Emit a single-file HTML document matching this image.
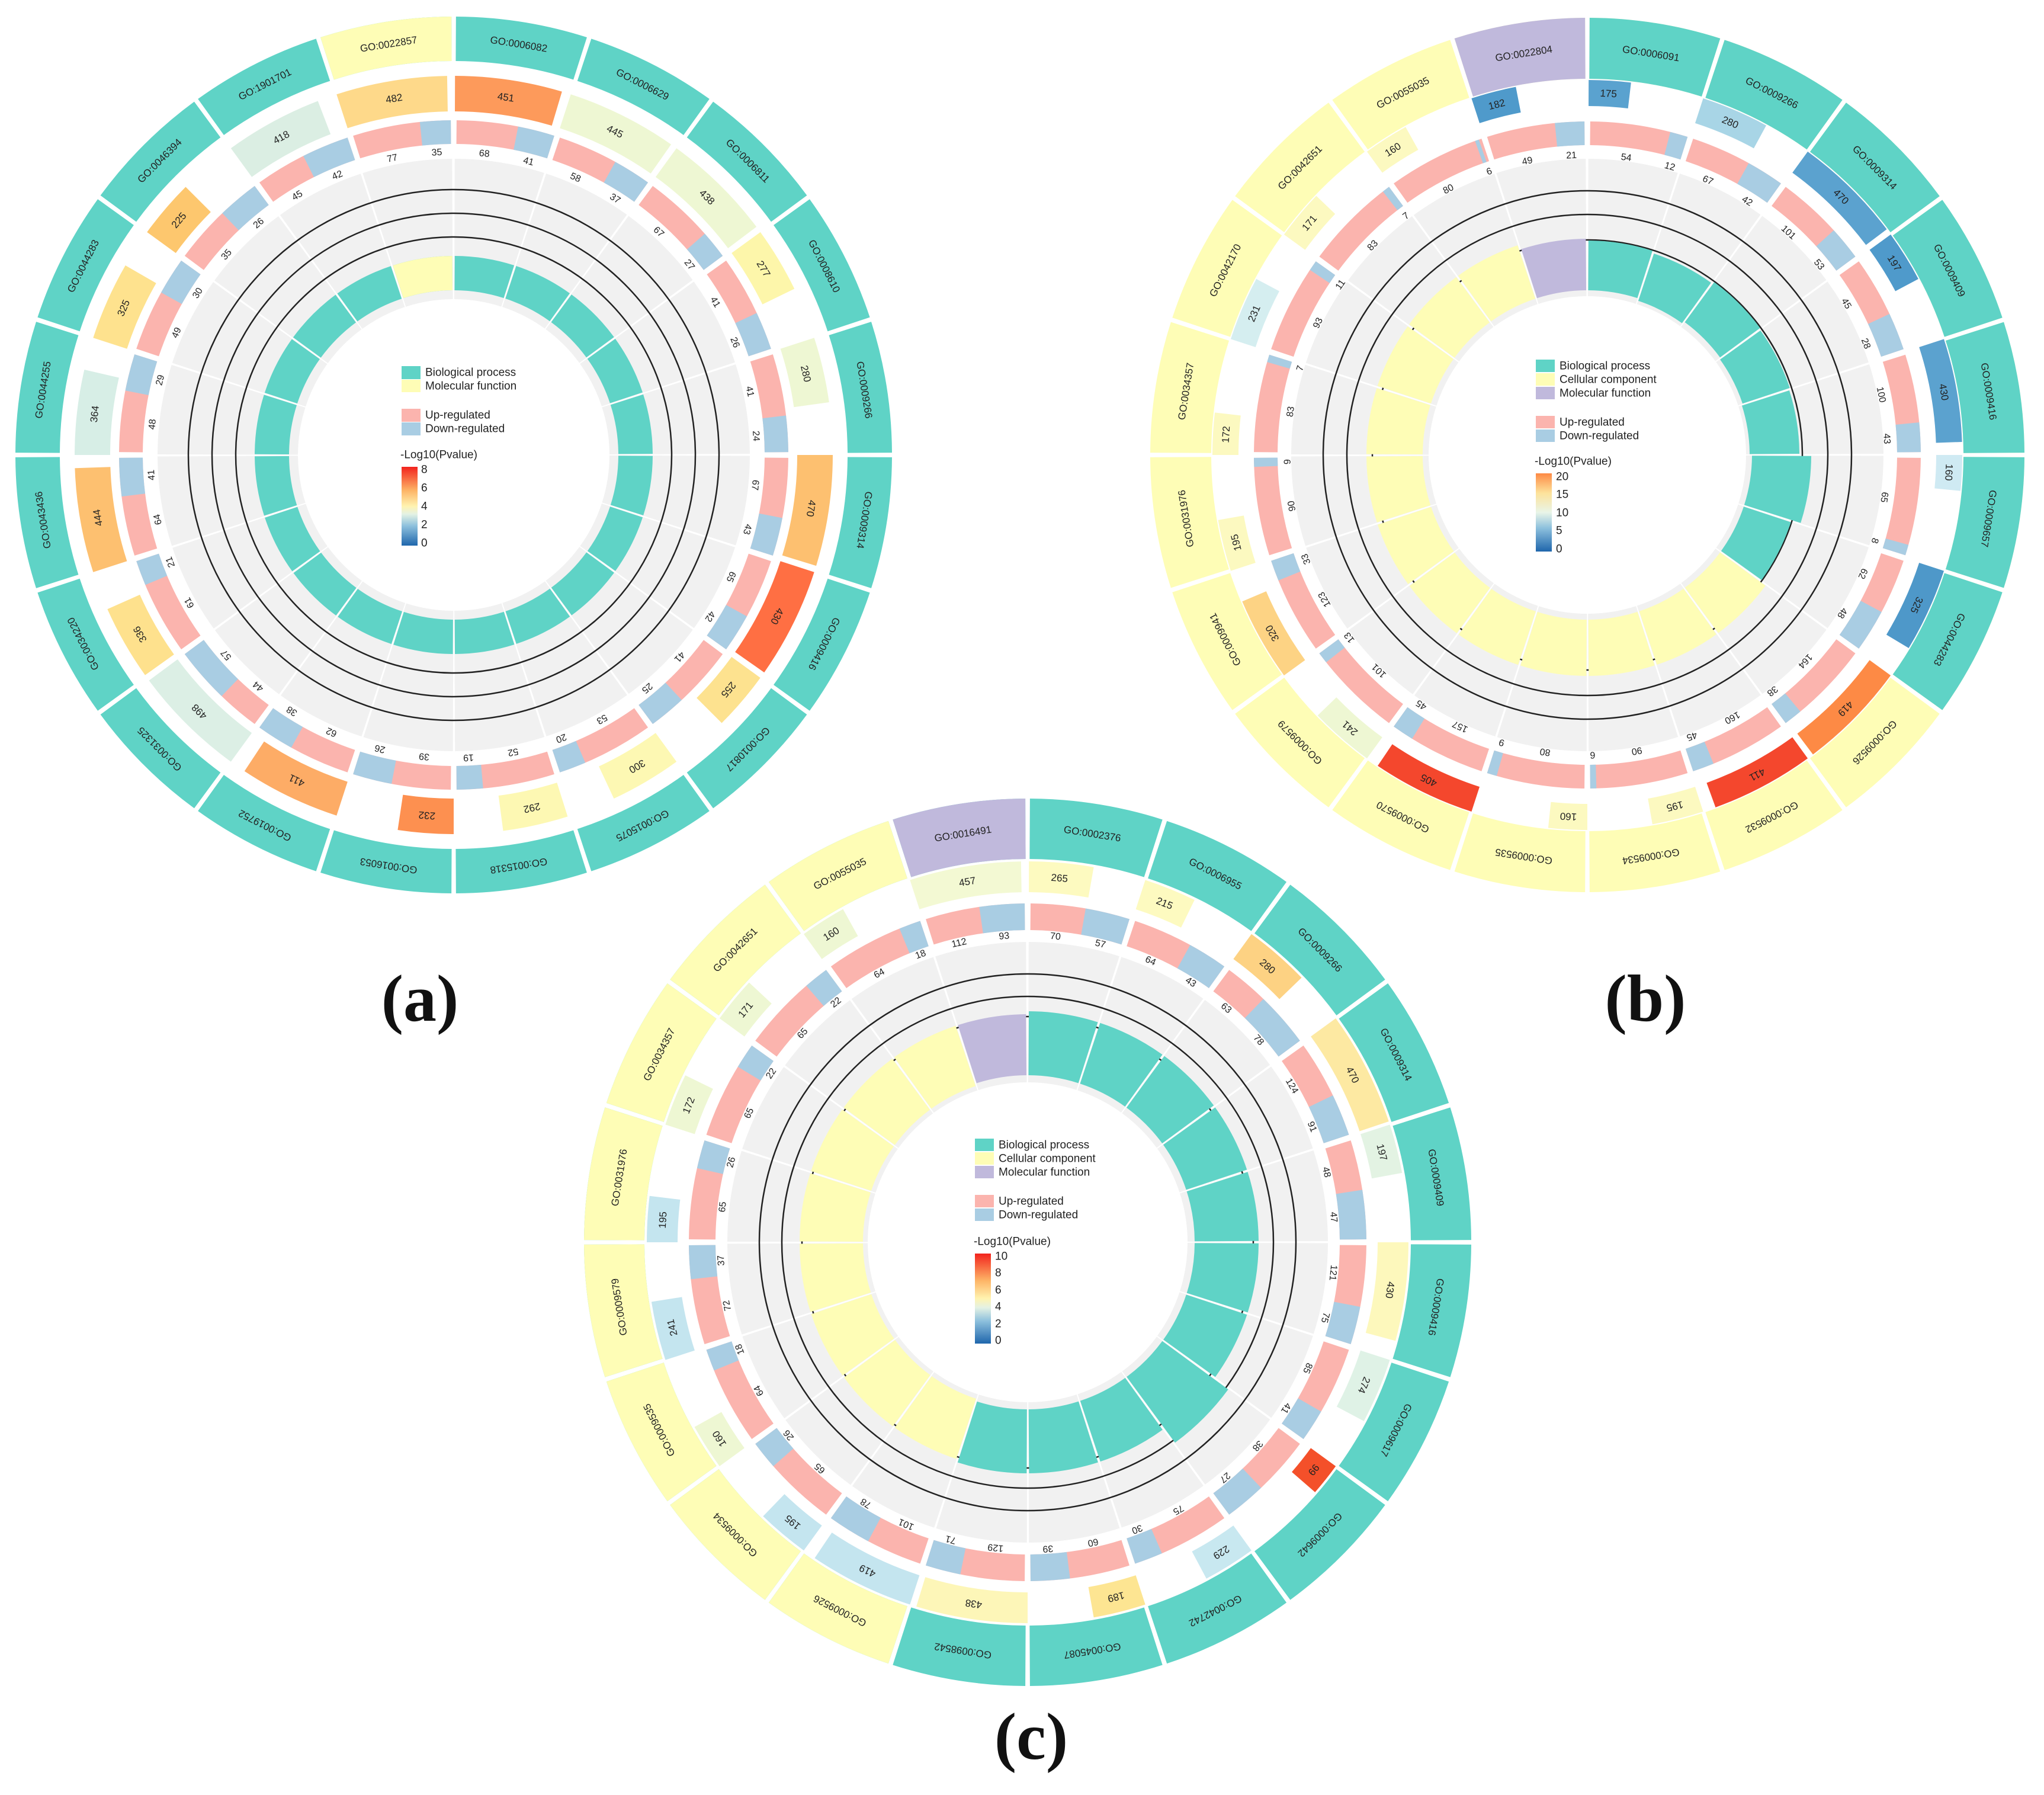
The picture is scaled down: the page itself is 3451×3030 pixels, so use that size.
<!DOCTYPE html>
<html><head><meta charset="utf-8"><style>
html,body{margin:0;padding:0;background:#fff}
svg{display:block}
circle{fill:none}
text{font-family:"Liberation Sans",sans-serif;text-anchor:middle;dominant-baseline:central;fill:#222}
.lg text{text-anchor:start;font-size:19px}
.t{stroke:#5fd3c6}.y{stroke:#fefdb6}.p{stroke:#c0b9dc}.u{stroke:#fbb4ae}.d{stroke:#a9cde3}
.k{stroke:#222;stroke-width:2.5}
.go{font-size:17px}.n{font-size:16px}
.lab{font-family:"Liberation Serif",serif;font-weight:bold;font-size:112px;fill:#111}
</style></head><body>
<svg width="3451" height="3030" viewBox="0 0 3451 3030" xmlns="http://www.w3.org/2000/svg">
<defs>
<linearGradient id="ga" x1="0" y1="1" x2="0" y2="0"><stop offset="0" stop-color="#1f66ac"/><stop offset=".25" stop-color="#8dc0dd"/><stop offset=".4" stop-color="#e4f2e4"/><stop offset=".5" stop-color="#fff3b0"/><stop offset=".7" stop-color="#fdb466"/><stop offset="1" stop-color="#f2231d"/></linearGradient>
<linearGradient id="gb" x1="0" y1="1" x2="0" y2="0"><stop offset="0" stop-color="#1f66ac"/><stop offset=".3" stop-color="#8dc0dd"/><stop offset=".5" stop-color="#e9f5e8"/><stop offset=".75" stop-color="#fde29a"/><stop offset="1" stop-color="#fd8a45"/></linearGradient>
</defs>

<!-- ===== PANEL A ===== -->
<g transform="translate(766,768) rotate(-90)">
<circle r="381.5" stroke="#f1f1f1" stroke-width="237" pathLength="360" stroke-dasharray="17.6 0.4" stroke-dashoffset="-0.2"/>
<circle class="k" r="368"/><circle class="k" r="408"/><circle class="k" r="448"/>
<circle class="t" r="307" stroke-width="58" pathLength="360" stroke-dasharray="17.4 0.6" stroke-dashoffset="-0.3"/>
<circle class="y" r="307" stroke-width="58" pathLength="360" stroke-dasharray="0 342.3 17.4 999"/>
<circle class="t" r="702.5" stroke-width="75" pathLength="360" stroke-dasharray="17.4 0.6" stroke-dashoffset="-0.3"/>
<circle class="y" r="702.5" stroke-width="75" pathLength="360" stroke-dasharray="0 342.3 17.4 999"/>
<circle class="u" r="545" stroke-width="40" pathLength="360" stroke-dasharray="17 1" stroke-dashoffset="-0.5"/>
<g stroke-width="40">
<circle class="d" r="545" pathLength="360" stroke-dasharray="0 11.11 6.39 999"/>
<circle class="d" r="545" pathLength="360" stroke-dasharray="0 28.88 6.62 999"/>
<circle class="d" r="545" pathLength="360" stroke-dasharray="0 48.62 4.88 999"/>
<circle class="d" r="545" pathLength="360" stroke-dasharray="0 64.9 6.6 999"/>
<circle class="d" r="545" pathLength="360" stroke-dasharray="0 83.22 6.28 999"/>
<circle class="d" r="545" pathLength="360" stroke-dasharray="0 100.85 6.65 999"/>
<circle class="d" r="545" pathLength="360" stroke-dasharray="0 118.83 6.67 999"/>
<circle class="d" r="545" pathLength="360" stroke-dasharray="0 137.06 6.44 999"/>
<circle class="d" r="545" pathLength="360" stroke-dasharray="0 156.84 4.66 999"/>
<circle class="d" r="545" pathLength="360" stroke-dasharray="0 174.95 4.55 999"/>
<circle class="d" r="545" pathLength="360" stroke-dasharray="0 190.7 6.8 999"/>
<circle class="d" r="545" pathLength="360" stroke-dasharray="0 209.04 6.46 999"/>
<circle class="d" r="545" pathLength="360" stroke-dasharray="0 223.91 9.59 999"/>
<circle class="d" r="545" pathLength="360" stroke-dasharray="0 247.15 4.35 999"/>
<circle class="d" r="545" pathLength="360" stroke-dasharray="0 262.86 6.64 999"/>
<circle class="d" r="545" pathLength="360" stroke-dasharray="0 281.1 6.4 999"/>
<circle class="d" r="545" pathLength="360" stroke-dasharray="0 299.04 6.46 999"/>
<circle class="d" r="545" pathLength="360" stroke-dasharray="0 316.25 7.25 999"/>
<circle class="d" r="545" pathLength="360" stroke-dasharray="0 333.29 8.21 999"/>
<circle class="d" r="545" pathLength="360" stroke-dasharray="0 354.19 5.31 999"/>
</g>
<g stroke-width="60">
<circle r="610" stroke="#fd9a5b" pathLength="360" stroke-dasharray="0 0.2 16.4 999"/>
<circle r="610" stroke="#eef7d3" pathLength="360" stroke-dasharray="0 18 17 999"/>
<circle r="610" stroke="#eef7d3" pathLength="360" stroke-dasharray="0 36 17 999"/>
<circle r="610" stroke="#fdf6aa" pathLength="360" stroke-dasharray="0 54 10 999"/>
<circle r="610" stroke="#eef7d3" pathLength="360" stroke-dasharray="0 72 10 999"/>
<circle r="610" stroke="#fdc070" pathLength="360" stroke-dasharray="0 90 17 999"/>
<circle r="610" stroke="#ff6f43" pathLength="360" stroke-dasharray="0 108 17 999"/>
<circle r="610" stroke="#fde28f" pathLength="360" stroke-dasharray="0 126 9 999"/>
<circle r="610" stroke="#fdf8b3" pathLength="360" stroke-dasharray="0 144 11 999"/>
<circle r="610" stroke="#fdf8b3" pathLength="360" stroke-dasharray="0 162.5 10 999"/>
<circle r="610" stroke="#fd9050" pathLength="360" stroke-dasharray="0 180 8.5 999"/>
<circle r="610" stroke="#fdac66" pathLength="360" stroke-dasharray="0 198 15.5 999"/>
<circle r="610" stroke="#dcefe5" pathLength="360" stroke-dasharray="0 216 17.5 999"/>
<circle r="610" stroke="#fee18d" pathLength="360" stroke-dasharray="0 234.5 11.5 999"/>
<circle r="610" stroke="#fdc070" pathLength="360" stroke-dasharray="0 252 16 999"/>
<circle r="610" stroke="#d7eee6" pathLength="360" stroke-dasharray="0 270 13 999"/>
<circle r="610" stroke="#fee28e" pathLength="360" stroke-dasharray="0 288 12 999"/>
<circle r="610" stroke="#fdc76e" pathLength="360" stroke-dasharray="0 306 9 999"/>
<circle r="610" stroke="#dbeee3" pathLength="360" stroke-dasharray="0 324 15 999"/>
<circle r="610" stroke="#fed98a" pathLength="360" stroke-dasharray="0 342 17 999"/>
</g>
</g>
<g transform="translate(766,768)">
<g class="go">
<text transform="rotate(9) translate(0,-702)">GO:0006082</text>
<text transform="rotate(27) translate(0,-702)">GO:0006629</text>
<text transform="rotate(45) translate(0,-702)">GO:0006811</text>
<text transform="rotate(63) translate(0,-702)">GO:0008610</text>
<text transform="rotate(81) translate(0,-702)">GO:0009266</text>
<text transform="rotate(99) translate(0,-702)">GO:0009314</text>
<text transform="rotate(117) translate(0,-702)">GO:0009416</text>
<text transform="rotate(135) translate(0,-702)">GO:0010817</text>
<text transform="rotate(153) translate(0,-702)">GO:0015075</text>
<text transform="rotate(171) translate(0,-702)">GO:0015318</text>
<text transform="rotate(189) translate(0,-702)">GO:0016053</text>
<text transform="rotate(207) translate(0,-702)">GO:0019752</text>
<text transform="rotate(225) translate(0,-702)">GO:0031325</text>
<text transform="rotate(243) translate(0,-702)">GO:0034220</text>
<text transform="rotate(261) translate(0,-702)">GO:0043436</text>
<text transform="rotate(279) translate(0,-702)">GO:0044255</text>
<text transform="rotate(297) translate(0,-702)">GO:0044283</text>
<text transform="rotate(315) translate(0,-702)">GO:0046394</text>
<text transform="rotate(333) translate(0,-702)">GO:1901701</text>
<text transform="rotate(351) translate(0,-702)">GO:0022857</text>
<text transform="rotate(8.3) translate(0,-610)">451</text>
<text transform="rotate(26.5) translate(0,-610)">445</text>
<text transform="rotate(44.5) translate(0,-610)">438</text>
<text transform="rotate(59) translate(0,-610)">277</text>
<text transform="rotate(77) translate(0,-610)">280</text>
<text transform="rotate(98.5) translate(0,-610)">470</text>
<text transform="rotate(116.5) translate(0,-610)">430</text>
<text transform="rotate(130.5) translate(0,-610)">255</text>
<text transform="rotate(149.5) translate(0,-610)">300</text>
<text transform="rotate(167.5) translate(0,-610)">292</text>
<text transform="rotate(184.25) translate(0,-610)">232</text>
<text transform="rotate(205.75) translate(0,-610)">411</text>
<text transform="rotate(224.75) translate(0,-610)">498</text>
<text transform="rotate(240.25) translate(0,-610)">336</text>
<text transform="rotate(260) translate(0,-610)">444</text>
<text transform="rotate(276.5) translate(0,-610)">364</text>
<text transform="rotate(294) translate(0,-610)">325</text>
<text transform="rotate(310.5) translate(0,-610)">225</text>
<text transform="rotate(331.5) translate(0,-610)">418</text>
<text transform="rotate(350.5) translate(0,-610)">482</text>
</g>
<g class="n">
<text transform="rotate(5.8) translate(0,-511)">68</text><text transform="rotate(14.3) translate(0,-511)">41</text>
<text transform="rotate(23.7) translate(0,-511)">58</text><text transform="rotate(32.2) translate(0,-511)">37</text>
<text transform="rotate(42.6) translate(0,-511)">67</text><text transform="rotate(51.1) translate(0,-511)">27</text>
<text transform="rotate(59.7) translate(0,-511)">41</text><text transform="rotate(68.2) translate(0,-511)">26</text>
<text transform="rotate(77.9) translate(0,-511)">41</text><text transform="rotate(86.4) translate(0,-511)">24</text>
<text transform="rotate(95.7) translate(0,-511)">67</text><text transform="rotate(104.2) translate(0,-511)">43</text>
<text transform="rotate(113.7) translate(0,-511)">65</text><text transform="rotate(122.2) translate(0,-511)">42</text>
<text transform="rotate(131.8) translate(0,-511)">41</text><text transform="rotate(140.3) translate(0,-511)">25</text>
<text transform="rotate(150.7) translate(0,-511)">53</text><text transform="rotate(159.2) translate(0,-511)">20</text>
<text transform="rotate(168.7) translate(0,-511)">52</text><text transform="rotate(177.2) translate(0,-511)">19</text>
<text transform="rotate(185.6) translate(0,-511)">39</text><text transform="rotate(194.1) translate(0,-511)">26</text>
<text transform="rotate(203.8) translate(0,-511)">62</text><text transform="rotate(212.3) translate(0,-511)">38</text>
<text transform="rotate(220.2) translate(0,-511)">44</text><text transform="rotate(228.7) translate(0,-511)">57</text>
<text transform="rotate(240.8) translate(0,-511)">61</text><text transform="rotate(249.3) translate(0,-511)">21</text>
<text transform="rotate(257.7) translate(0,-511)">64</text><text transform="rotate(266.2) translate(0,-511)">41</text>
<text transform="rotate(275.8) translate(0,-511)">48</text><text transform="rotate(284.3) translate(0,-511)">29</text>
<text transform="rotate(293.8) translate(0,-511)">49</text><text transform="rotate(302.3) translate(0,-511)">30</text>
<text transform="rotate(311.4) translate(0,-511)">35</text><text transform="rotate(319.9) translate(0,-511)">26</text>
<text transform="rotate(328.9) translate(0,-511)">45</text><text transform="rotate(337.4) translate(0,-511)">42</text>
<text transform="rotate(348.3) translate(0,-511)">77</text><text transform="rotate(356.8) translate(0,-511)">35</text>
</g>
</g>
<g class="lg">
<rect x="678" y="618" width="32" height="22" fill="#5fd3c6"/><text x="718" y="629">Biological process</text>
<rect x="678" y="641" width="32" height="21" fill="#fefdb6"/><text x="718" y="652">Molecular function</text>
<rect x="678" y="690" width="32" height="22" fill="#fbb4ae"/><text x="718" y="701">Up-regulated</text>
<rect x="678" y="713" width="32" height="22" fill="#a9cde3"/><text x="718" y="724">Down-regulated</text>
<text x="676" y="768">-Log10(Pvalue)</text>
<rect x="678" y="788" width="27" height="133" fill="url(#ga)"/>
<text x="711" y="793">8</text><text x="711" y="824">6</text><text x="711" y="855">4</text><text x="711" y="886">2</text><text x="711" y="917">0</text>
</g>

<!-- ===== PANEL B ===== -->
<g transform="translate(2680,768) rotate(-90)">
<circle r="384" stroke="#f1f1f1" stroke-width="232" pathLength="360" stroke-dasharray="17.6 0.4" stroke-dashoffset="-0.2"/>
<circle class="k" r="363"/><circle class="k" r="406"/><circle class="k" r="446"/>
<g stroke-width="84">
<circle class="t" r="320" pathLength="360" stroke-dasharray="0 0.3 17.4 999"/>
<circle class="t" r="316" pathLength="360" stroke-dasharray="0 18.3 17.4 999"/>
<circle class="t" r="320" pathLength="360" stroke-dasharray="0 36.3 17.4 999"/>
<circle class="t" r="318" pathLength="360" stroke-dasharray="0 54.3 17.4 999"/>
<circle class="t" r="316" pathLength="360" stroke-dasharray="0 72.3 17.4 999"/>
<circle class="t" r="328" stroke-width="100" pathLength="360" stroke-dasharray="0 90.3 17.4 999"/>
<circle class="t" r="320" pathLength="360" stroke-dasharray="0 108.3 17.4 999"/>
<circle class="p" r="321.5" stroke-width="87" pathLength="360" stroke-dasharray="0 342.3 17.4 999"/>
</g>
<g stroke-width="95">
<circle class="y" r="325.5" pathLength="360" stroke-dasharray="0 126.3 17.4 999"/>
<circle class="y" r="325.5" pathLength="360" stroke-dasharray="0 144.3 17.4 999"/>
<circle class="y" r="325.5" pathLength="360" stroke-dasharray="0 162.3 17.4 999"/>
<circle class="y" r="325.5" pathLength="360" stroke-dasharray="0 180.3 17.4 999"/>
<circle class="y" r="325.5" pathLength="360" stroke-dasharray="0 198.3 17.4 999"/>
<circle class="y" r="325.5" pathLength="360" stroke-dasharray="0 216.3 17.4 999"/>
<circle class="y" r="325.5" pathLength="360" stroke-dasharray="0 234.3 17.4 999"/>
<circle class="y" r="325.5" pathLength="360" stroke-dasharray="0 252.3 17.4 999"/>
<circle class="y" r="325.5" pathLength="360" stroke-dasharray="0 270.3 17.4 999"/>
<circle class="y" r="325.5" pathLength="360" stroke-dasharray="0 288.3 17.4 999"/>
<circle class="y" r="325.5" pathLength="360" stroke-dasharray="0 306.3 17.4 999"/>
<circle class="y" r="325.5" pathLength="360" stroke-dasharray="0 324.3 17.4 999"/>
</g>
<circle class="y" r="686.5" stroke-width="103" pathLength="360" stroke-dasharray="17.4 0.6" stroke-dashoffset="-0.3"/>
<circle class="t" r="686.5" stroke-width="103" pathLength="360" stroke-dasharray="0 0.3 17.4 0.6 17.4 0.6 17.4 0.6 17.4 0.6 17.4 0.6 17.4 0.6 17.4 999"/>
<circle class="p" r="686.5" stroke-width="103" pathLength="360" stroke-dasharray="0 342.3 17.4 999"/>
<circle class="u" r="543" stroke-width="40" pathLength="360" stroke-dasharray="17 1" stroke-dashoffset="-0.5"/>
<g stroke-width="40">
<circle class="d" r="543" pathLength="360" stroke-dasharray="0 14.41 3.09 999"/>
<circle class="d" r="543" pathLength="360" stroke-dasharray="0 28.95 6.55 999"/>
<circle class="d" r="543" pathLength="360" stroke-dasharray="0 47.65 5.85 999"/>
<circle class="d" r="543" pathLength="360" stroke-dasharray="0 64.98 6.52 999"/>
<circle class="d" r="543" pathLength="360" stroke-dasharray="0 84.39 5.11 999"/>
<circle class="d" r="543" pathLength="360" stroke-dasharray="0 105.64 1.86 999"/>
<circle class="d" r="543" pathLength="360" stroke-dasharray="0 118.08 7.42 999"/>
<circle class="d" r="543" pathLength="360" stroke-dasharray="0 140.3 3.2 999"/>
<circle class="d" r="543" pathLength="360" stroke-dasharray="0 157.77 3.73 999"/>
<circle class="d" r="543" pathLength="360" stroke-dasharray="0 178.44 1.06 999"/>
<circle class="d" r="543" pathLength="360" stroke-dasharray="0 195.78 1.72 999"/>
<circle class="d" r="543" pathLength="360" stroke-dasharray="0 211.71 3.79 999"/>
<circle class="d" r="543" pathLength="360" stroke-dasharray="0 231.56 1.94 999"/>
<circle class="d" r="543" pathLength="360" stroke-dasharray="0 247.9 3.6 999"/>
<circle class="d" r="543" pathLength="360" stroke-dasharray="0 267.95 1.55 999"/>
<circle class="d" r="543" pathLength="360" stroke-dasharray="0 286.18 1.32 999"/>
<circle class="d" r="543" pathLength="360" stroke-dasharray="0 303.7 1.8 999"/>
<circle class="d" r="543" pathLength="360" stroke-dasharray="0 322.18 1.32 999"/>
<circle class="d" r="543" pathLength="360" stroke-dasharray="0 340.31 0.69 999"/>
<circle class="d" r="543" pathLength="360" stroke-dasharray="0 354.4 5.1 999"/>
</g>
<g stroke-width="44">
<circle r="611" stroke="#5aa2cf" pathLength="360" stroke-dasharray="0 0.2 6.5 999"/>
<circle r="611" stroke="#a8d5e6" pathLength="360" stroke-dasharray="0 18 10.5 999"/>
<circle r="611" stroke="#5ba2cf" pathLength="360" stroke-dasharray="0 36 17 999"/>
<circle r="611" stroke="#4f9acb" pathLength="360" stroke-dasharray="0 54 8 999"/>
<circle r="611" stroke="#5ba2cf" pathLength="360" stroke-dasharray="0 72 16 999"/>
<circle r="611" stroke="#cfeaf3" pathLength="360" stroke-dasharray="0 90 5.5 999"/>
<circle r="611" stroke="#4e98c9" pathLength="360" stroke-dasharray="0 108 13 999"/>
<circle r="611" stroke="#fd8a45" pathLength="360" stroke-dasharray="0 126 17 999"/>
<circle r="611" stroke="#f4472d" pathLength="360" stroke-dasharray="0 144 16 999"/>
<circle r="611" stroke="#fcf9c0" pathLength="360" stroke-dasharray="0 162 8 999"/>
<circle r="611" stroke="#fcf9c0" pathLength="360" stroke-dasharray="0 180 6 999"/>
<circle r="611" stroke="#f4472d" pathLength="360" stroke-dasharray="0 198 16 999"/>
<circle r="611" stroke="#eef7d3" pathLength="360" stroke-dasharray="0 216 10 999"/>
<circle r="611" stroke="#fdd384" pathLength="360" stroke-dasharray="0 234 13 999"/>
<circle r="611" stroke="#fcf9c0" pathLength="360" stroke-dasharray="0 252 8 999"/>
<circle r="611" stroke="#fcf9c0" pathLength="360" stroke-dasharray="0 270 6.5 999"/>
<circle r="611" stroke="#d5eef0" pathLength="360" stroke-dasharray="0 288 10 999"/>
<circle r="611" stroke="#fcf9c0" pathLength="360" stroke-dasharray="0 306 7.7 999"/>
<circle r="611" stroke="#fcf9c0" pathLength="360" stroke-dasharray="0 324 7 999"/>
<circle r="611" stroke="#4f9acb" pathLength="360" stroke-dasharray="0 342 7 999"/>
</g>
</g>
<g transform="translate(2680,768)">
<g class="go">
<text transform="rotate(9) translate(0,-686)">GO:0006091</text>
<text transform="rotate(27) translate(0,-686)">GO:0009266</text>
<text transform="rotate(45) translate(0,-686)">GO:0009314</text>
<text transform="rotate(63) translate(0,-686)">GO:0009409</text>
<text transform="rotate(81) translate(0,-686)">GO:0009416</text>
<text transform="rotate(99) translate(0,-686)">GO:0009657</text>
<text transform="rotate(117) translate(0,-686)">GO:0044283</text>
<text transform="rotate(135) translate(0,-686)">GO:0009526</text>
<text transform="rotate(153) translate(0,-686)">GO:0009532</text>
<text transform="rotate(171) translate(0,-686)">GO:0009534</text>
<text transform="rotate(189) translate(0,-686)">GO:0009535</text>
<text transform="rotate(207) translate(0,-686)">GO:0009570</text>
<text transform="rotate(225) translate(0,-686)">GO:0009579</text>
<text transform="rotate(243) translate(0,-686)">GO:0009941</text>
<text transform="rotate(261) translate(0,-686)">GO:0031976</text>
<text transform="rotate(279) translate(0,-686)">GO:0034357</text>
<text transform="rotate(297) translate(0,-686)">GO:0042170</text>
<text transform="rotate(315) translate(0,-686)">GO:0042651</text>
<text transform="rotate(333) translate(0,-686)">GO:0055035</text>
<text transform="rotate(351) translate(0,-686)">GO:0022804</text>
<text transform="rotate(3.35) translate(0,-611)">175</text>
<text transform="rotate(23.25) translate(0,-611)">280</text>
<text transform="rotate(44.5) translate(0,-611)">470</text>
<text transform="rotate(58) translate(0,-611)">197</text>
<text transform="rotate(80) translate(0,-611)">430</text>
<text transform="rotate(92.75) translate(0,-611)">160</text>
<text transform="rotate(114.5) translate(0,-611)">325</text>
<text transform="rotate(134.5) translate(0,-611)">419</text>
<text transform="rotate(152) translate(0,-611)">411</text>
<text transform="rotate(166) translate(0,-611)">195</text>
<text transform="rotate(183) translate(0,-611)">160</text>
<text transform="rotate(206) translate(0,-611)">405</text>
<text transform="rotate(221) translate(0,-611)">241</text>
<text transform="rotate(240.5) translate(0,-611)">320</text>
<text transform="rotate(256) translate(0,-611)">195</text>
<text transform="rotate(273.25) translate(0,-611)">172</text>
<text transform="rotate(293) translate(0,-611)">231</text>
<text transform="rotate(309.85) translate(0,-611)">171</text>
<text transform="rotate(327.5) translate(0,-611)">160</text>
<text transform="rotate(345.5) translate(0,-611)">182</text>
</g>
<g class="n">
<text transform="rotate(7.45) translate(0,-506)">54</text><text transform="rotate(15.95) translate(0,-506)">12</text>
<text transform="rotate(23.7) translate(0,-506)">67</text><text transform="rotate(32.2) translate(0,-506)">42</text>
<text transform="rotate(42.1) translate(0,-506)">101</text><text transform="rotate(50.6) translate(0,-506)">53</text>
<text transform="rotate(59.7) translate(0,-506)">45</text><text transform="rotate(68.2) translate(0,-506)">28</text>
<text transform="rotate(78.4) translate(0,-506)">100</text><text transform="rotate(86.9) translate(0,-506)">43</text>
<text transform="rotate(98.1) translate(0,-506)">65</text><text transform="rotate(106.6) translate(0,-506)">8</text>
<text transform="rotate(113.3) translate(0,-506)">62</text><text transform="rotate(121.8) translate(0,-506)">48</text>
<text transform="rotate(133.4) translate(0,-506)">164</text><text transform="rotate(141.9) translate(0,-506)">38</text>
<text transform="rotate(151.1) translate(0,-506)">160</text><text transform="rotate(159.6) translate(0,-506)">45</text>
<text transform="rotate(170.5) translate(0,-506)">90</text><text transform="rotate(179) translate(0,-506)">6</text>
<text transform="rotate(188.1) translate(0,-506)">80</text><text transform="rotate(196.6) translate(0,-506)">9</text>
<text transform="rotate(205.1) translate(0,-506)">157</text><text transform="rotate(213.6) translate(0,-506)">45</text>
<text transform="rotate(224) translate(0,-506)">101</text><text transform="rotate(232.5) translate(0,-506)">13</text>
<text transform="rotate(241.2) translate(0,-506)">123</text><text transform="rotate(249.7) translate(0,-506)">33</text>
<text transform="rotate(260.2) translate(0,-506)">90</text><text transform="rotate(268.7) translate(0,-506)">9</text>
<text transform="rotate(278.3) translate(0,-506)">83</text><text transform="rotate(286.8) translate(0,-506)">7</text>
<text transform="rotate(296.1) translate(0,-506)">93</text><text transform="rotate(304.6) translate(0,-506)">11</text>
<text transform="rotate(314.3) translate(0,-506)">83</text><text transform="rotate(322.8) translate(0,-506)">7</text>
<text transform="rotate(332.4) translate(0,-506)">80</text><text transform="rotate(340.9) translate(0,-506)">6</text>
<text transform="rotate(348.45) translate(0,-506)">49</text><text transform="rotate(356.95) translate(0,-506)">21</text>
</g>
</g>
<g class="lg">
<rect x="2593" y="607" width="32" height="21" fill="#5fd3c6"/><text x="2633" y="618">Biological process</text>
<rect x="2593" y="630" width="32" height="21" fill="#fefdb6"/><text x="2633" y="641">Cellular component</text>
<rect x="2593" y="653" width="32" height="21" fill="#c0b9dc"/><text x="2633" y="664">Molecular function</text>
<rect x="2593" y="702" width="32" height="21" fill="#fbb4ae"/><text x="2633" y="713">Up-regulated</text>
<rect x="2593" y="725" width="32" height="21" fill="#a9cde3"/><text x="2633" y="736">Down-regulated</text>
<text x="2591" y="779">-Log10(Pvalue)</text>
<rect x="2593" y="799" width="27" height="132" fill="url(#gb)"/>
<text x="2627" y="805">20</text><text x="2627" y="835">15</text><text x="2627" y="866">10</text><text x="2627" y="896">5</text><text x="2627" y="927">0</text>
</g>

<!-- ===== PANEL C ===== -->
<g transform="translate(1735,2097) rotate(-90)">
<circle r="388.5" stroke="#f1f1f1" stroke-width="237" pathLength="360" stroke-dasharray="17.6 0.4" stroke-dashoffset="-0.2"/>
<circle class="k" r="381"/><circle class="k" r="415"/><circle class="k" r="453"/>
<g stroke-width="108">
<circle class="t" r="336" pathLength="360" stroke-dasharray="0 0.3 17.4 999"/>
<circle class="t" r="336" pathLength="360" stroke-dasharray="0 18.3 17.4 999"/>
<circle class="t" r="336" pathLength="360" stroke-dasharray="0 36.3 17.4 999"/>
<circle class="t" r="336" pathLength="360" stroke-dasharray="0 54.3 17.4 999"/>
<circle class="t" r="336" pathLength="360" stroke-dasharray="0 72.3 17.4 999"/>
<circle class="t" r="336" pathLength="360" stroke-dasharray="0 90.3 17.4 999"/>
<circle class="t" r="336" pathLength="360" stroke-dasharray="0 108.3 17.4 999"/>
<circle class="t" r="351" stroke-width="138" pathLength="360" stroke-dasharray="0 126.3 17.4 999"/>
<circle class="t" r="336" pathLength="360" stroke-dasharray="0 144.3 17.4 999"/>
<circle class="t" r="336" pathLength="360" stroke-dasharray="0 162.3 17.4 999"/>
<circle class="t" r="336" pathLength="360" stroke-dasharray="0 180.3 17.4 999"/>
<circle class="p" r="333.5" stroke-width="103" pathLength="360" stroke-dasharray="0 342.3 17.4 999"/>
</g>
<g stroke-width="107">
<circle class="y" r="331.5" pathLength="360" stroke-dasharray="0 198.3 17.4 999"/>
<circle class="y" r="331.5" pathLength="360" stroke-dasharray="0 216.3 17.4 999"/>
<circle class="y" r="331.5" pathLength="360" stroke-dasharray="0 234.3 17.4 999"/>
<circle class="y" r="331.5" pathLength="360" stroke-dasharray="0 252.3 17.4 999"/>
<circle class="y" r="331.5" pathLength="360" stroke-dasharray="0 270.3 17.4 999"/>
<circle class="y" r="331.5" pathLength="360" stroke-dasharray="0 288.3 17.4 999"/>
<circle class="y" r="331.5" pathLength="360" stroke-dasharray="0 306.3 17.4 999"/>
<circle class="y" r="331.5" pathLength="360" stroke-dasharray="0 324.3 17.4 999"/>
</g>
<circle class="t" r="698" stroke-width="102" pathLength="360" stroke-dasharray="17.4 0.6" stroke-dashoffset="-0.3"/>
<circle class="y" r="698" stroke-width="102" pathLength="360" stroke-dasharray="0 198.3 17.4 0.6 17.4 0.6 17.4 0.6 17.4 0.6 17.4 0.6 17.4 0.6 17.4 0.6 17.4 999"/>
<circle class="p" r="698" stroke-width="102" pathLength="360" stroke-dasharray="0 342.3 17.4 999"/>
<circle class="u" r="549.5" stroke-width="45" pathLength="360" stroke-dasharray="17 1" stroke-dashoffset="-0.5"/>
<g stroke-width="45">
<circle class="d" r="549.5" pathLength="360" stroke-dasharray="0 9.87 7.63 999"/>
<circle class="d" r="549.5" pathLength="360" stroke-dasharray="0 28.67 6.83 999"/>
<circle class="d" r="549.5" pathLength="360" stroke-dasharray="0 44.1 9.4 999"/>
<circle class="d" r="549.5" pathLength="360" stroke-dasharray="0 64.3 7.2 999"/>
<circle class="d" r="549.5" pathLength="360" stroke-dasharray="0 81.09 8.41 999"/>
<circle class="d" r="549.5" pathLength="360" stroke-dasharray="0 100.99 6.51 999"/>
<circle class="d" r="549.5" pathLength="360" stroke-dasharray="0 119.97 5.53 999"/>
<circle class="d" r="549.5" pathLength="360" stroke-dasharray="0 136.44 7.06 999"/>
<circle class="d" r="549.5" pathLength="360" stroke-dasharray="0 156.64 4.86 999"/>
<circle class="d" r="549.5" pathLength="360" stroke-dasharray="0 172.8 6.7 999"/>
<circle class="d" r="549.5" pathLength="360" stroke-dasharray="0 191.47 6.03 999"/>
<circle class="d" r="549.5" pathLength="360" stroke-dasharray="0 208.09 7.41 999"/>
<circle class="d" r="549.5" pathLength="360" stroke-dasharray="0 228.64 4.86 999"/>
<circle class="d" r="549.5" pathLength="360" stroke-dasharray="0 247.77 3.73 999"/>
<circle class="d" r="549.5" pathLength="360" stroke-dasharray="0 263.73 5.77 999"/>
<circle class="d" r="549.5" pathLength="360" stroke-dasharray="0 282.64 4.86 999"/>
<circle class="d" r="549.5" pathLength="360" stroke-dasharray="0 301.2 4.3 999"/>
<circle class="d" r="549.5" pathLength="360" stroke-dasharray="0 319.2 4.3 999"/>
<circle class="d" r="549.5" pathLength="360" stroke-dasharray="0 337.77 3.73 999"/>
<circle class="d" r="549.5" pathLength="360" stroke-dasharray="0 351.79 7.71 999"/>
</g>
<g stroke-width="52">
<circle r="617" stroke="#fdfac0" pathLength="360" stroke-dasharray="0 0.2 9.8 999"/>
<circle r="617" stroke="#fdfac0" pathLength="360" stroke-dasharray="0 18 8 999"/>
<circle r="617" stroke="#fdd283" pathLength="360" stroke-dasharray="0 36 10 999"/>
<circle r="617" stroke="#fde9a2" pathLength="360" stroke-dasharray="0 54 17.5 999"/>
<circle r="617" stroke="#e3f3e3" pathLength="360" stroke-dasharray="0 72 7.5 999"/>
<circle r="617" stroke="#fdf8bc" pathLength="360" stroke-dasharray="0 90 15 999"/>
<circle r="617" stroke="#dff2e6" pathLength="360" stroke-dasharray="0 108 10 999"/>
<circle r="617" stroke="#f4502a" pathLength="360" stroke-dasharray="0 126 5 999"/>
<circle r="617" stroke="#c8e8f0" pathLength="360" stroke-dasharray="0 144 8 999"/>
<circle r="617" stroke="#fde592" pathLength="360" stroke-dasharray="0 162 8 999"/>
<circle r="617" stroke="#fdf6b8" pathLength="360" stroke-dasharray="0 180 17 999"/>
<circle r="617" stroke="#c4e5ef" pathLength="360" stroke-dasharray="0 198 16 999"/>
<circle r="617" stroke="#c4e5ef" pathLength="360" stroke-dasharray="0 216 8 999"/>
<circle r="617" stroke="#eef7d3" pathLength="360" stroke-dasharray="0 234 7 999"/>
<circle r="617" stroke="#c4e5ef" pathLength="360" stroke-dasharray="0 252 9 999"/>
<circle r="617" stroke="#c4e5ef" pathLength="360" stroke-dasharray="0 270 7 999"/>
<circle r="617" stroke="#eef7d3" pathLength="360" stroke-dasharray="0 288 8 999"/>
<circle r="617" stroke="#eef7d3" pathLength="360" stroke-dasharray="0 306 7 999"/>
<circle r="617" stroke="#eef7d3" pathLength="360" stroke-dasharray="0 324 7 999"/>
<circle r="617" stroke="#f3f9d3" pathLength="360" stroke-dasharray="0 342 17 999"/>
</g>
</g>
<g transform="translate(1735,2097)">
<g class="go">
<text transform="rotate(9) translate(0,-698)">GO:0002376</text>
<text transform="rotate(27) translate(0,-698)">GO:0006955</text>
<text transform="rotate(45) translate(0,-698)">GO:0009266</text>
<text transform="rotate(63) translate(0,-698)">GO:0009314</text>
<text transform="rotate(81) translate(0,-698)">GO:0009409</text>
<text transform="rotate(99) translate(0,-698)">GO:0009416</text>
<text transform="rotate(117) translate(0,-698)">GO:0009617</text>
<text transform="rotate(135) translate(0,-698)">GO:0009642</text>
<text transform="rotate(153) translate(0,-698)">GO:0042742</text>
<text transform="rotate(171) translate(0,-698)">GO:0045087</text>
<text transform="rotate(189) translate(0,-698)">GO:0098542</text>
<text transform="rotate(207) translate(0,-698)">GO:0009526</text>
<text transform="rotate(225) translate(0,-698)">GO:0009534</text>
<text transform="rotate(243) translate(0,-698)">GO:0009535</text>
<text transform="rotate(261) translate(0,-698)">GO:0009579</text>
<text transform="rotate(279) translate(0,-698)">GO:0031976</text>
<text transform="rotate(297) translate(0,-698)">GO:0034357</text>
<text transform="rotate(315) translate(0,-698)">GO:0042651</text>
<text transform="rotate(333) translate(0,-698)">GO:0055035</text>
<text transform="rotate(351) translate(0,-698)">GO:0016491</text>
<text transform="rotate(5) translate(0,-617)">265</text>
<text transform="rotate(22) translate(0,-617)">215</text>
<text transform="rotate(41) translate(0,-617)">280</text>
<text transform="rotate(62.75) translate(0,-617)">470</text>
<text transform="rotate(75.75) translate(0,-617)">197</text>
<text transform="rotate(97.5) translate(0,-617)">430</text>
<text transform="rotate(113) translate(0,-617)">274</text>
<text transform="rotate(128.5) translate(0,-617)">99</text>
<text transform="rotate(148) translate(0,-617)">229</text>
<text transform="rotate(166) translate(0,-617)">189</text>
<text transform="rotate(188.5) translate(0,-617)">438</text>
<text transform="rotate(206) translate(0,-617)">419</text>
<text transform="rotate(220) translate(0,-617)">195</text>
<text transform="rotate(237.5) translate(0,-617)">160</text>
<text transform="rotate(256.5) translate(0,-617)">241</text>
<text transform="rotate(273.5) translate(0,-617)">195</text>
<text transform="rotate(292) translate(0,-617)">172</text>
<text transform="rotate(309.5) translate(0,-617)">171</text>
<text transform="rotate(327.5) translate(0,-617)">160</text>
<text transform="rotate(350.5) translate(0,-617)">457</text>
</g>
<g class="n">
<text transform="rotate(5.2) translate(0,-518)">70</text><text transform="rotate(13.7) translate(0,-518)">57</text>
<text transform="rotate(23.6) translate(0,-518)">64</text><text transform="rotate(32.1) translate(0,-518)">43</text>
<text transform="rotate(40.3) translate(0,-518)">63</text><text transform="rotate(48.8) translate(0,-518)">78</text>
<text transform="rotate(59.4) translate(0,-518)">124</text><text transform="rotate(67.9) translate(0,-518)">91</text>
<text transform="rotate(76.8) translate(0,-518)">48</text><text transform="rotate(85.3) translate(0,-518)">47</text>
<text transform="rotate(95.7) translate(0,-518)">121</text><text transform="rotate(104.2) translate(0,-518)">75</text>
<text transform="rotate(114.2) translate(0,-518)">85</text><text transform="rotate(122.7) translate(0,-518)">41</text>
<text transform="rotate(131.5) translate(0,-518)">38</text><text transform="rotate(140) translate(0,-518)">27</text>
<text transform="rotate(150.6) translate(0,-518)">75</text><text transform="rotate(159.1) translate(0,-518)">30</text>
<text transform="rotate(167.7) translate(0,-518)">60</text><text transform="rotate(176.2) translate(0,-518)">39</text>
<text transform="rotate(186) translate(0,-518)">129</text><text transform="rotate(194.5) translate(0,-518)">71</text>
<text transform="rotate(203.3) translate(0,-518)">101</text><text transform="rotate(211.8) translate(0,-518)">78</text>
<text transform="rotate(222.6) translate(0,-518)">65</text><text transform="rotate(231.1) translate(0,-518)">26</text>
<text transform="rotate(241.1) translate(0,-518)">64</text><text transform="rotate(249.6) translate(0,-518)">18</text>
<text transform="rotate(258.1) translate(0,-518)">72</text><text transform="rotate(266.6) translate(0,-518)">37</text>
<text transform="rotate(276.6) translate(0,-518)">65</text><text transform="rotate(285.1) translate(0,-518)">26</text>
<text transform="rotate(294.85) translate(0,-518)">65</text><text transform="rotate(303.35) translate(0,-518)">22</text>
<text transform="rotate(312.85) translate(0,-518)">65</text><text transform="rotate(321.35) translate(0,-518)">22</text>
<text transform="rotate(331.1) translate(0,-518)">64</text><text transform="rotate(339.6) translate(0,-518)">18</text>
<text transform="rotate(347.1) translate(0,-518)">112</text><text transform="rotate(355.6) translate(0,-518)">93</text>
</g>
</g>
<g class="lg">
<rect x="1646" y="1922" width="32" height="21" fill="#5fd3c6"/><text x="1686" y="1933">Biological process</text>
<rect x="1646" y="1945" width="32" height="21" fill="#fefdb6"/><text x="1686" y="1956">Cellular component</text>
<rect x="1646" y="1968" width="32" height="21" fill="#c0b9dc"/><text x="1686" y="1979">Molecular function</text>
<rect x="1646" y="2017" width="32" height="21" fill="#fbb4ae"/><text x="1686" y="2028">Up-regulated</text>
<rect x="1646" y="2040" width="32" height="21" fill="#a9cde3"/><text x="1686" y="2051">Down-regulated</text>
<text x="1644" y="2096">-Log10(Pvalue)</text>
<rect x="1646" y="2116" width="27" height="152" fill="url(#ga)"/>
<text x="1680" y="2121">10</text><text x="1680" y="2149">8</text><text x="1680" y="2178">6</text><text x="1680" y="2206">4</text><text x="1680" y="2235">2</text><text x="1680" y="2263">0</text>
</g>

<text class="lab" x="709" y="1686">(a)</text>
<text class="lab" x="2778" y="1686">(b)</text>
<text class="lab" x="1741" y="2932">(c)</text>
</svg>
</body></html>
